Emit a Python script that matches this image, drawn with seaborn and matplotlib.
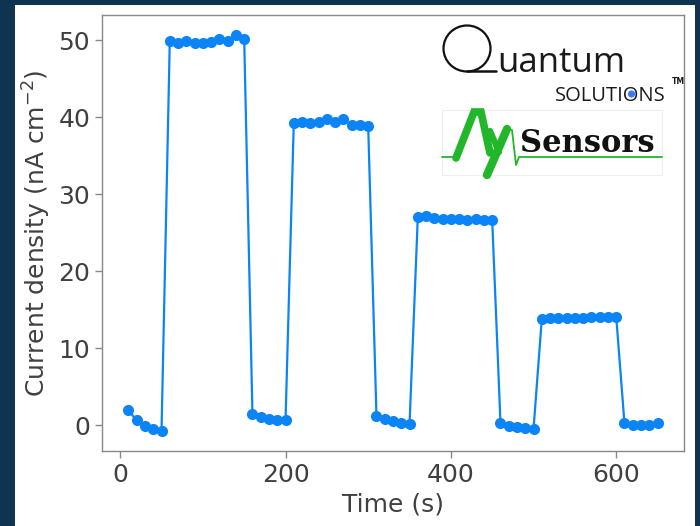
import matplotlib
matplotlib.use("Agg")
import matplotlib.pyplot as plt
from matplotlib.patches import Rectangle, Ellipse, Circle
import seaborn as sns

# time (s) and current density (nA cm^-2)
time_s = [10, 20, 30, 40, 50,
          60, 70, 80, 90, 100, 110, 120, 130, 140, 150,
          160, 170, 180, 190, 200,
          210, 220, 230, 240, 250, 260, 270, 280, 290, 300,
          310, 320, 330, 340, 350,
          360, 370, 380, 390, 400, 410, 420, 430, 440, 450,
          460, 470, 480, 490, 500,
          510, 520, 530, 540, 550, 560, 570, 580, 590, 600,
          610, 620, 630, 640, 650]
current = [1.9, 0.6, -0.1, -0.5, -0.8,
           49.9, 49.7, 49.9, 49.7, 49.7, 49.8, 50.1, 49.9, 50.7, 50.2,
           1.4, 1.0, 0.8, 0.7, 0.6,
           39.3, 39.4, 39.3, 39.4, 39.7, 39.4, 39.7, 39.0, 39.0, 38.8,
           1.2, 0.8, 0.5, 0.3, 0.1,
           27.0, 27.1, 26.9, 26.8, 26.8, 26.8, 26.7, 26.8, 26.6, 26.6,
           0.3, -0.1, -0.3, -0.4, -0.5,
           13.8, 13.9, 13.9, 13.9, 13.9, 13.9, 14.1, 14.1, 14.0, 14.1,
           0.2, 0.0, 0.0, 0.0, 0.2]
x_ticks = [0, 200, 400, 600]
y_ticks = [0, 10, 20, 30, 40, 50]

blue = "#0a84f7"
green = "#22b62a"
grey = "#888888"
txt = "#404040"

sns.set_style("white")
plt.rcParams["font.family"] = ["DejaVu Sans"]

fig = plt.figure(figsize=(7, 5.26), dpi=100, facecolor="#10344f")
fig.add_artist(Rectangle((15 / 700, 0), 680 / 700, 521 / 526, transform=fig.transFigure,
                         facecolor="white", edgecolor="none", zorder=0))

ax = fig.add_axes([102 / 700, 1 - 451 / 526, 582 / 700, 436 / 526])
sns.lineplot(x=time_s, y=current, ax=ax, color=blue, linewidth=1.6, marker="o",
             markersize=8, markeredgewidth=0, markerfacecolor=blue)
ax.set_xticks(x_ticks)
ax.set_yticks(y_ticks)
ax.set_xlabel("Time (s)", fontsize=18, color=txt)
ax.set_ylabel("Current density (nA cm$^{-2}$)", fontsize=18, color=txt)
ax.tick_params(axis="both", labelsize=18, labelcolor=txt, color=grey,
               length=5, width=1, direction="out", bottom=True, left=True)
for s in ax.spines.values():
    s.set_color(grey)
    s.set_linewidth(1.0)

# logos, drawn in a pixel-coordinate overlay
lax = fig.add_axes([420 / 700, 1 - 200 / 526, 280 / 700, 200 / 526])
lax.set_xlim(420, 700)
lax.set_ylim(200, 0)
lax.axis("off")

lax.add_patch(Ellipse((467, 48.5), 47, 46, fill=False, edgecolor="#111111", lw=1.6))
lax.plot([467, 496], [71.5, 71.5], color="#111111", lw=1.8)
lax.text(497, 71.5, "uantum", fontsize=25, family="Open Sans", color="#1a1a1a",
         va="baseline", ha="left")
lax.text(666, 101, "SOLUTIONS", fontsize=14.5, family="Open Sans", color="#1a1a1a",
         va="baseline", ha="right")
lax.add_patch(Circle((631.5, 94), 3.6, facecolor="#3a7bf0", edgecolor="none", zorder=5))
lax.text(672, 84, "TM", fontsize=5.5, color="#1a1a1a", va="baseline", ha="left",
         fontweight="bold")

lax.add_patch(Rectangle((442, 110), 220, 65, fill=False, edgecolor="#eeeeee", lw=0.8))
lax.plot([442, 458], [157, 157], color=green, lw=1.3)
lax.plot([508, 512, 516, 519, 662], [130, 130, 165, 157, 157], color=green, lw=1.3)
lax.plot([456, 474, 481, 490], [158, 112, 112, 153], color=green, lw=5.5,
         solid_joinstyle="miter")
lax.plot([490, 499], [131, 152], color=green, lw=4.5)
lax.plot([507, 487], [129, 175], color=green, lw=6)
lax.text(520, 152, "Sensors", fontsize=22, family="DejaVu Serif", fontweight="bold",
         color="#111111", va="baseline", ha="left")

fig.savefig("out.png", dpi=100, facecolor=fig.get_facecolor())
